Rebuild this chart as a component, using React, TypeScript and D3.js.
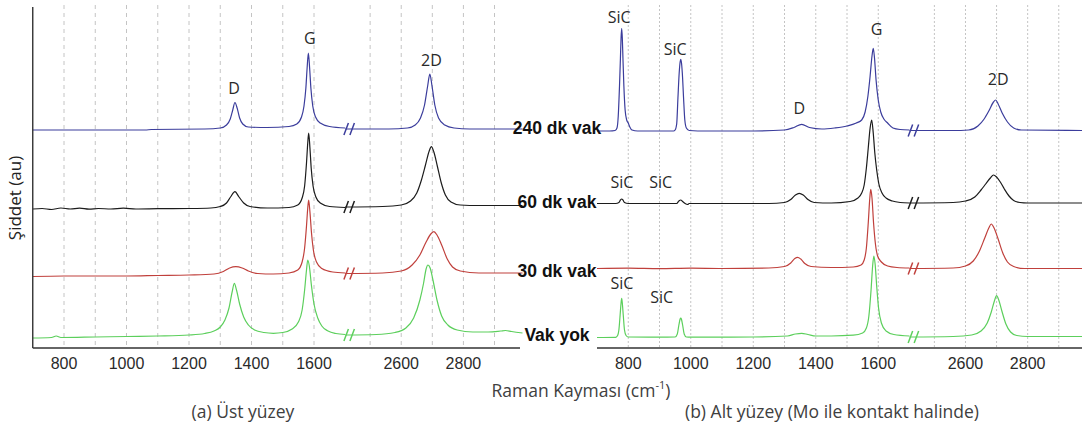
import React from 'react';
import * as d3 from 'd3';

type Pt = [number, number];

// ---------------- data (Raman shift cm-1, stacked intensity in au) ----------------
const seriesNames = ['240 dk vak', '60 dk vak', '30 dk vak', 'Vak yok'];
const seriesColors = ['#3b3d9c', '#1c1c1c', '#c0403c', '#5ccf5c'];

// (a) Üst yüzey
const ust240: Pt[] = [
  [700, 218], [900, 218], [1060, 218], [1080, 218.5], [1250, 219], [1300, 220], [1320, 223], [1332, 229],
  [1340, 238], [1347, 245.5], [1354, 240], [1362, 230], [1372, 224], [1390, 221], [1450, 220.5], [1520, 221.5],
  [1545, 224], [1560, 231], [1568, 242], [1574, 260], [1578, 280], [1582, 295], [1586, 280], [1590, 260],
  [1596, 242], [1605, 231], [1620, 225], [1650, 221.5], [1700, 220],
  [2420, 219], [2560, 219], [2620, 220], [2645, 223], [2662, 230], [2675, 243], [2685, 262], [2692, 274],
  [2699, 262], [2708, 243], [2720, 230], [2740, 223], [2770, 220], [2820, 219], [2990, 219],
];
const ust60: Pt[] = [
  [700, 139], [730, 139.5], [760, 138.5], [790, 140], [820, 139], [850, 139.8], [880, 138.8], [910, 139.5],
  [950, 139], [990, 139.8], [1030, 139], [1100, 139.3], [1200, 139.5], [1270, 140], [1300, 141.5], [1320, 145],
  [1333, 151], [1347, 156.3], [1360, 151], [1375, 145], [1395, 141.5], [1450, 140], [1520, 140.5], [1548, 143],
  [1562, 150], [1570, 162], [1576, 185], [1580, 205], [1583, 215], [1587, 200], [1591, 180], [1597, 162],
  [1606, 151], [1620, 145], [1650, 141.5], [1700, 140.5],
  [2420, 141], [2540, 141.5], [2600, 143], [2630, 147], [2650, 155], [2665, 168], [2678, 183], [2690, 197],
  [2697, 201.3], [2705, 196], [2716, 182], [2728, 166], [2742, 153], [2760, 146], [2790, 143], [2850, 142.5],
  [2990, 142.5],
];
const ust30: Pt[] = [
  [700, 71.5], [800, 72], [900, 72], [1000, 72], [1100, 72.5], [1200, 73], [1280, 74], [1310, 76.5],
  [1330, 80], [1350, 81.3], [1370, 80], [1390, 77], [1420, 74.5], [1470, 74], [1520, 75], [1548, 78],
  [1562, 86], [1570, 100], [1576, 122], [1580, 140], [1583, 148], [1587, 136], [1592, 115], [1598, 98],
  [1608, 86], [1625, 79.5], [1660, 76], [1700, 75],
  [2420, 74.5], [2540, 75], [2600, 77], [2635, 83], [2660, 93], [2680, 106], [2695, 114], [2705, 116.3],
  [2715, 113], [2730, 103], [2748, 89], [2765, 81], [2790, 77], [2850, 75], [2990, 75],
];
const ustYok: Pt[] = [
  [700, 10], [760, 10.5], [775, 12], [790, 10.5], [900, 11], [1000, 11.5], [1100, 12], [1200, 13],
  [1250, 14.5], [1280, 17], [1300, 21], [1315, 28], [1328, 40], [1338, 56], [1345, 64.7], [1352, 58],
  [1362, 44], [1375, 31], [1390, 23], [1410, 18], [1440, 15.5], [1470, 14.7], [1500, 15.5], [1530, 19],
  [1550, 26], [1562, 38], [1570, 58], [1576, 78], [1580, 88], [1585, 82], [1592, 62], [1600, 44],
  [1612, 30], [1625, 22], [1645, 17], [1670, 14.5], [1700, 13.5],
  [2420, 13], [2520, 13.5], [2580, 15.5], [2615, 20], [2640, 30], [2660, 48], [2672, 65], [2680, 79],
  [2686, 83], [2693, 80], [2702, 68], [2715, 48], [2730, 32], [2750, 23], [2780, 18], [2830, 16],
  [2880, 16], [2920, 17], [2935, 17.5], [2955, 16.5], [2990, 15],
];

// (b) Alt yüzey
const alt240: Pt[] = [
  [700, 217], [740, 217], [758, 217.5], [764, 220], [768, 232], [772, 262], [775, 290], [777, 310],
  [779, 319.7], [781, 310], [783, 290], [786, 262], [790, 238], [795, 228], [800, 225], [805, 221],
  [812, 218], [830, 217], [900, 217], [945, 217], [950, 218], [955, 224], [959, 250], [963, 275],
  [966, 286], [968, 288.7], [970, 286], [973, 275], [977, 250], [981, 228], [986, 220], [995, 217.5],
  [1050, 217], [1200, 217], [1300, 218], [1330, 220.5], [1355, 223.7], [1380, 220.5], [1420, 219],
  [1460, 220], [1500, 222], [1530, 225], [1547, 228], [1558, 236], [1567, 252], [1574, 272], [1580, 292],
  [1584, 299.7], [1588, 290], [1593, 268], [1600, 248], [1608, 236], [1618, 229], [1630, 225], [1647, 220],
  [1670, 218.5], [1700, 218],
  [2420, 217.5], [2560, 217.5], [2610, 218], [2640, 222], [2660, 229], [2675, 237], [2690, 246], [2697, 248],
  [2705, 244], [2718, 235], [2735, 226], [2755, 220], [2780, 218], [2990, 217.5],
];
const alt60: Pt[] = [
  [700, 144.5], [760, 144.5], [770, 145.5], [775, 148], [779, 149], [783, 148], [788, 145.5], [800, 144.5],
  [900, 144.5], [955, 144.5], [962, 147], [968, 148], [974, 146.5], [982, 144.5], [990, 143.5], [995, 144.5],
  [1100, 144.5], [1250, 144.5], [1300, 145.5], [1320, 148.5], [1335, 153], [1347, 154.7], [1360, 153],
  [1375, 148.5], [1395, 145.5], [1450, 145], [1510, 146.5], [1535, 150], [1547, 155], [1555, 163],
  [1562, 180], [1568, 200], [1574, 220], [1579, 228], [1584, 215], [1589, 195], [1595, 178], [1602, 164],
  [1612, 155], [1625, 150], [1645, 147], [1670, 145.5], [1700, 145],
  [2420, 145], [2560, 145.5], [2600, 147], [2630, 151], [2650, 158], [2665, 164], [2680, 170], [2690, 173],
  [2700, 171], [2712, 166], [2725, 159], [2740, 152], [2755, 147.5], [2775, 145.5], [2800, 145], [2990, 145],
];
const alt30: Pt[] = [
  [700, 79.5], [800, 79.8], [900, 79.3], [1000, 79.8], [1100, 79.5], [1250, 80], [1300, 81.5], [1320, 85],
  [1333, 89.5], [1342, 90.7], [1352, 89], [1365, 84.5], [1385, 81.5], [1450, 80.5], [1520, 81], [1545, 83],
  [1555, 88], [1562, 100], [1568, 125], [1573, 150], [1576, 158.7], [1580, 150], [1585, 125], [1591, 104],
  [1598, 92], [1610, 86], [1630, 82], [1660, 80.5], [1700, 80],
  [2420, 79.5], [2560, 80], [2600, 82], [2625, 87], [2645, 97], [2662, 110], [2675, 120], [2683, 124],
  [2692, 120], [2705, 109], [2720, 95], [2735, 86], [2755, 81.5], [2790, 79.5], [2990, 79.5],
];
const altYok: Pt[] = [
  [700, 10.5], [760, 10.7], [766, 12.5], [770, 18], [774, 33], [777, 45], [779, 49.7], [781, 45],
  [784, 33], [788, 18], [793, 12.5], [800, 11], [900, 10.8], [950, 11], [957, 14], [962, 23],
  [966, 29], [968, 30], [970, 29], [974, 23], [979, 14], [986, 11], [1000, 10.8], [1200, 11],
  [1310, 12], [1335, 14], [1355, 14.7], [1375, 13.5], [1400, 12], [1450, 12], [1520, 12.8], [1550, 15],
  [1562, 20], [1570, 32], [1577, 58], [1582, 82], [1586, 92], [1590, 84], [1595, 62], [1601, 40],
  [1610, 25], [1625, 17], [1650, 13.5], [1700, 12],
  [2420, 11], [2560, 11.5], [2620, 13], [2650, 17], [2670, 25], [2683, 36], [2693, 47], [2700, 52.3],
  [2707, 48], [2717, 37], [2730, 24], [2745, 16], [2765, 12.5], [2800, 11.5], [2990, 11.5],
];

const ustSeries = [ust240, ust60, ust30, ustYok];
const altSeries = [alt240, alt60, alt30, altYok];

const xDomain = [700, 1700, 2420, 2990];
const gridValues = [800, 900, 1000, 1100, 1200, 1300, 1400, 1500, 1600, 2500, 2600, 2700, 2800, 2900];
const tickValues = [800, 1000, 1200, 1400, 1600, 2600, 2800];
const breakAt = 2435;

// peak annotations: [text, wavenumber, au]
const ustPeaks: [string, number, number][] = [
  ['D', 1344, 260], ['G', 1587, 310], ['2D', 2697, 288],
];
const altPeaks: [string, number, number][] = [
  ['SiC', 771, 331], ['SiC', 950, 299], ['D', 1347, 240], ['G', 1595, 319], ['2D', 2705, 269],
  ['SiC', 780, 166], ['SiC', 904, 166],
  ['SiC', 780, 65], ['SiC', 907, 51],
];

const W = 1082;
const H = 428;

export default function App() {
  const y = d3.scaleLinear().domain([0, 340]).range([348, 8]);
  const xLeft = d3.scaleLinear().domain(xDomain).range([32.75, 345.25, 345.25, 522.5]);
  const off = 564.25;
  const xRight = d3.scaleLinear().domain(xDomain).range([32.75 + off, 345.25 + off, 345.25 + off, 522.5 + off]);

  const panel = (x: d3.ScaleLinear<number, number>, series: Pt[][], dash: string, key: string, axisEnd: number, showY: boolean) => {
    const line = d3.line<Pt>().x(d => x(d[0])).y(d => y(d[1])).curve(d3.curveMonotoneX);
    const bx = x(breakAt);
    return (
      <g key={key}>
        {gridValues.map(v => (
          <line key={v} x1={x(v)} x2={x(v)} y1={5} y2={348} stroke="#c4c4c4" strokeWidth={1} strokeDasharray={dash} />
        ))}
        {series.map((s, i) => {
          const seg1 = s.filter(d => d[0] <= 1700);
          const seg2 = s.filter(d => d[0] >= 2420);
          const by = y(seg2[0][1]);
          return (
            <g key={i}>
              <path d={line(seg1) || ''} fill="none" stroke={seriesColors[i]} strokeWidth={1.2} />
              <path d={line(seg2) || ''} fill="none" stroke={seriesColors[i]} strokeWidth={1.2} />
              <line x1={bx - 6} y1={by + 6} x2={bx - 1.5} y2={by - 6} stroke={seriesColors[i]} strokeWidth={1.5} />
              <line x1={bx} y1={by + 6} x2={bx + 4.5} y2={by - 6} stroke={seriesColors[i]} strokeWidth={1.5} />
            </g>
          );
        })}
        <line x1={x(700)} x2={axisEnd} y1={348} y2={348} stroke="#333" strokeWidth={1.4} />
        {showY && <line x1={x(700)} x2={x(700)} y1={7} y2={348} stroke="#333" strokeWidth={1.4} />}
        {tickValues.map(v => (
          <text key={v} x={x(v)} y={369} textAnchor="middle" fontFamily="'Liberation Sans', Arial, sans-serif" fontSize={16} fill="#2a2a2a">{v}</text>
        ))}
      </g>
    );
  };

  const peakText = (x: d3.ScaleLinear<number, number>, list: [string, number, number][], key: string) => (
    <g key={key}>
      {list.map((p, i) => (
        <text key={i} x={x(p[1])} y={y(p[2])} textAnchor="middle" dominantBaseline="central" fontFamily="'Open Sans', sans-serif" fontSize={16} fill="#2a2a2a">{p[0]}</text>
      ))}
    </g>
  );

  const labelY = [127.7, 202.3, 270.7, 335];

  return (
    <svg width={W} height={H} style={{ position: 'absolute', left: 0, top: 0, background: '#fff' }}>
      <rect x={0} y={0} width={W} height={H} fill="#fff" />
      {panel(xLeft, ustSeries, '4,4', 'ust', 520, true)}
      {panel(xRight, altSeries, '2,2', 'alt', 1082, false)}
      {peakText(xLeft, ustPeaks, 'pu')}
      {peakText(xRight, altPeaks, 'pa')}
      {seriesNames.map((n, i) => (
        <text key={n} x={557} y={labelY[i]} textAnchor="middle" dominantBaseline="central" fontFamily="'Liberation Sans', Arial, sans-serif" fontWeight="bold" fontSize={17.5} fill="#111">{n}</text>
      ))}
      <text transform="translate(14,198) rotate(-90)" textAnchor="middle" dominantBaseline="central" fontFamily="'Open Sans', sans-serif" fontSize={17} fill="#222">Şiddet (au)</text>
      <text x={581} y={390} textAnchor="middle" dominantBaseline="central" fontFamily="'Open Sans', sans-serif" fontSize={17.5} fill="#404040">
        Raman Kayması (cm<tspan dy={-6} fontSize={11}>-1</tspan><tspan dy={6}>)</tspan>
      </text>
      <text x={243} y={411} textAnchor="middle" dominantBaseline="central" fontFamily="'Open Sans', sans-serif" fontSize={17.5} fill="#404040">(a) Üst yüzey</text>
      <text x={832} y={411} textAnchor="middle" dominantBaseline="central" fontFamily="'Open Sans', sans-serif" fontSize={17.5} fill="#404040">(b) Alt yüzey (Mo ile kontakt halinde)</text>
    </svg>
  );
}
